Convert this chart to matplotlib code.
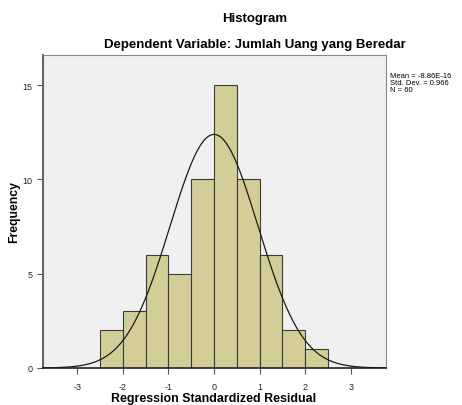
import numpy as np
import matplotlib.pyplot as plt

plt.rcParams['font.family'] = ['Liberation Sans', 'DejaVu Sans']
plt.rcParams['axes.unicode_minus'] = False

# histogram bins of the standardized residuals
bin_edges = [-2.5, -2.0, -1.5, -1.0, -0.5, 0.0, 0.5, 1.0, 1.5, 2.0, 2.5]
counts = [2, 3, 6, 5, 10, 15, 10, 6, 2, 1]
mean = -8.86e-16
std = 0.966
n = 60

fig = plt.figure(figsize=(4.62, 4.06), dpi=100)
ax = fig.add_axes([43 / 462, 1 - 369 / 406, 343 / 462, 313 / 406])
ax.set_facecolor('#f0f0f0')

lefts = bin_edges[:-1]
widths = np.diff(bin_edges)
ax.bar(lefts, counts, width=widths, align='edge', color='#d3ce97',
       edgecolor='#3a3a3a', linewidth=0.8, zorder=2)

# normal curve scaled to counts
xs = np.linspace(-3.75, 3.75, 400)
bw = widths[0]
ys = n * bw / (std * np.sqrt(2 * np.pi)) * np.exp(-0.5 * ((xs - mean) / std) ** 2)
ax.plot(xs, ys, color='#1a1a1a', linewidth=0.9, zorder=3)

ax.set_xlim(-3.75, 3.77)
ax.set_ylim(0, 16.6)
ax.set_xticks([-3, -2, -1, 0, 1, 2, 3])
ax.set_yticks([0, 5, 10, 15])
ax.tick_params(axis='both', direction='out', length=4, width=0.8,
               labelsize=6.5, colors='#555555', labelcolor='#222222')
ax.tick_params(axis='x', pad=6)

for side in ['top', 'right']:
    ax.spines[side].set_color('#888888')
    ax.spines[side].set_linewidth(0.8)
ax.spines['left'].set_color('#666666')
ax.spines['left'].set_linewidth(1.5)
ax.spines['bottom'].set_color('#222222')
ax.spines['bottom'].set_linewidth(1.2)

fig.text(214 / 462, 1 - 399 / 406, 'Regression Standardized Residual',
         ha='center', va='center', fontsize=8.9, fontweight='bold')
fig.text(14 / 462, 1 - 212 / 406, 'Frequency', rotation=90,
         ha='center', va='center', fontsize=8.8, fontweight='bold')

fig.text(255 / 462, 1 - 19 / 406, 'Histogram', ha='center', va='center',
         fontsize=9.5, fontweight='bold')
fig.text(255 / 462, 1 - 45 / 406, 'Dependent Variable: Jumlah Uang yang Beredar',
         ha='center', va='center', fontsize=9.5, fontweight='bold')

fig.text(390 / 462, 1 - 73 / 406,
         'Mean = -8.86E-16\nStd. Dev. = 0.966\nN = 60',
         ha='left', va='top', fontsize=5.5, linespacing=0.95)

fig.savefig('out.png', dpi=100)
